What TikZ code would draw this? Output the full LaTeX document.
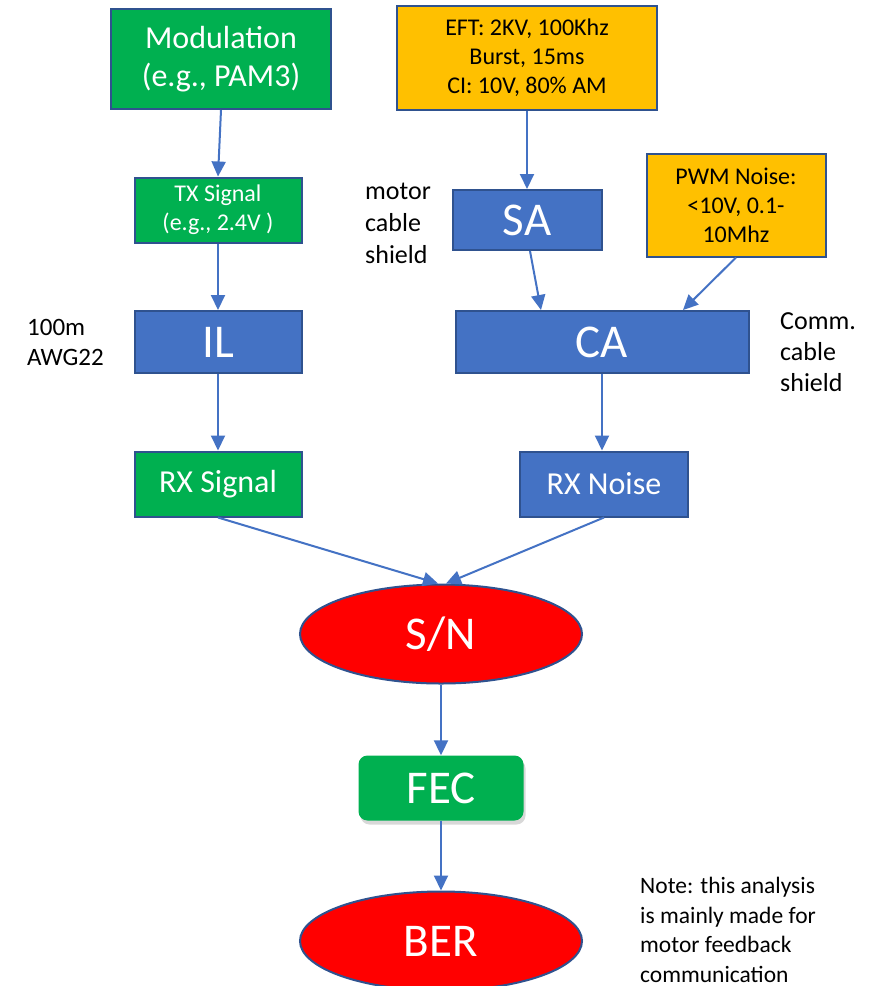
\documentclass[tikz,border=0pt]{standalone}
\usepackage{fontspec}
\setmainfont{Carlito}
\usetikzlibrary{arrows.meta,shapes.geometric,shadows}
\definecolor{cgreen}{HTML}{00B050}
\definecolor{cblue}{HTML}{4472C4}
\definecolor{cborder}{HTML}{2F528F}
\definecolor{corange}{HTML}{FFC000}
\definecolor{cred}{HTML}{FF0000}
\newcommand{\fs}[2]{\fontsize{#1}{#2}\selectfont}
\tikzset{
  box/.style={draw=cborder, line width=2pt, inner sep=0pt, align=center},
  gbox/.style={box, fill=cgreen, text=white},
  bbox/.style={box, fill=cblue, text=white},
  obox/.style={box, fill=corange, text=black},
  rell/.style={ellipse, draw=cborder, line width=2pt, fill=cred, text=white, inner sep=0pt, font=\fs{47}{52}},
  lbl/.style={align=left, inner sep=0pt, anchor=north west, text=black},
  conn/.style={draw=cblue, line width=2pt, -{Triangle[length=15pt,width=14pt]}}
}
\begin{document}
\begin{tikzpicture}[x=1pt,y=-1pt]
\clip (0,0) rectangle (872,986);
\fill[white] (0,0) rectangle (872,986);
% top row
\node[gbox, minimum width=220pt, minimum height=100pt, font=\fs{32}{38}] (mod) at (221,59) {Modulation\\(e.g., PAM3)};
\node[obox, minimum width=260pt, minimum height=104pt, font=\fs{24}{29}] (eft) at (527,58) {EFT: 2KV, 100Khz\\Burst, 15ms\\CI: 10V, 80\% AM};
% second row
\node[gbox, minimum width=167pt, minimum height=65pt, font=\fs{24}{29}] (tx) at (218,210) {TX Signal\\(e.g., 2.4V )};
\node[lbl, font=\fs{26}{32}] (motor) at (365,183) {motor\\cable\\shield};
\node[bbox, minimum width=149pt, minimum height=60pt, font=\fs{47}{52}] (sa) at (527,220) {SA};
\node[obox, minimum width=179pt, minimum height=103pt, font=\fs{24}{29}] (pwm) at (736,205) {PWM Noise:\\<10V, 0.1-\\10Mhz};
% third row
\node[lbl, font=\fs{25}{30}] (awg) at (27,319) {100m\\AWG22};
\node[bbox, minimum width=167pt, minimum height=62pt, font=\fs{47}{52}] (il) at (218,342) {IL};
\node[bbox, minimum width=293pt, minimum height=62pt, font=\fs{47}{52}] (ca) at (602,342) {CA};
\node[lbl, font=\fs{26}{31}] (comm) at (780,312) {Comm.\\cable\\shield};
% fourth row
\node[gbox, minimum width=167pt, minimum height=65pt, font=\fs{32}{38}] (rxs) at (218,484) {RX Signal};
\node[bbox, minimum width=168pt, minimum height=65pt, font=\fs{32}{38}] (rxn) at (604,484) {RX Noise};
% bottom
\node[rell, minimum width=282pt, minimum height=99pt] (sn) at (441,634) {S/N};
\node[fill=cgreen, text=white, rounded corners=9pt, minimum width=165pt, minimum height=65pt, inner sep=0pt, font=\fs{47}{52},
      drop shadow={opacity=0.3, shadow xshift=2pt, shadow yshift=-4pt}] (fec) at (441,788) {FEC};
\node[rell, minimum width=282pt, minimum height=99pt] (ber) at (441,941) {BER};
\node[lbl, font=\fs{23.5}{29.5}] (note) at (640,877) {Note: this analysis\\is mainly made for\\motor feedback\\communication};
% connectors
\draw[conn] (mod.south) -- (tx.north);
\draw[conn] (tx.south) -- (il.north);
\draw[conn] (il.south) -- (rxs.north);
\draw[conn] (eft.south) -- (sa.north);
\draw[conn] ([xshift=3pt]sa.south) -- ([xshift=-61pt]ca.north);
\draw[conn] (pwm.south) -- ([xshift=81pt]ca.north);
\draw[conn] (ca.south) -- (ca.south |- rxn.north);
\draw[conn] (rxs.south) -- ([xshift=-3pt]sn.north);
\draw[conn] (rxn.south) -- ([xshift=5pt]sn.north);
\draw[conn] (sn.south) -- (fec.north);
\draw[conn] (fec.south) -- (ber.north);
\end{tikzpicture}
\end{document}
